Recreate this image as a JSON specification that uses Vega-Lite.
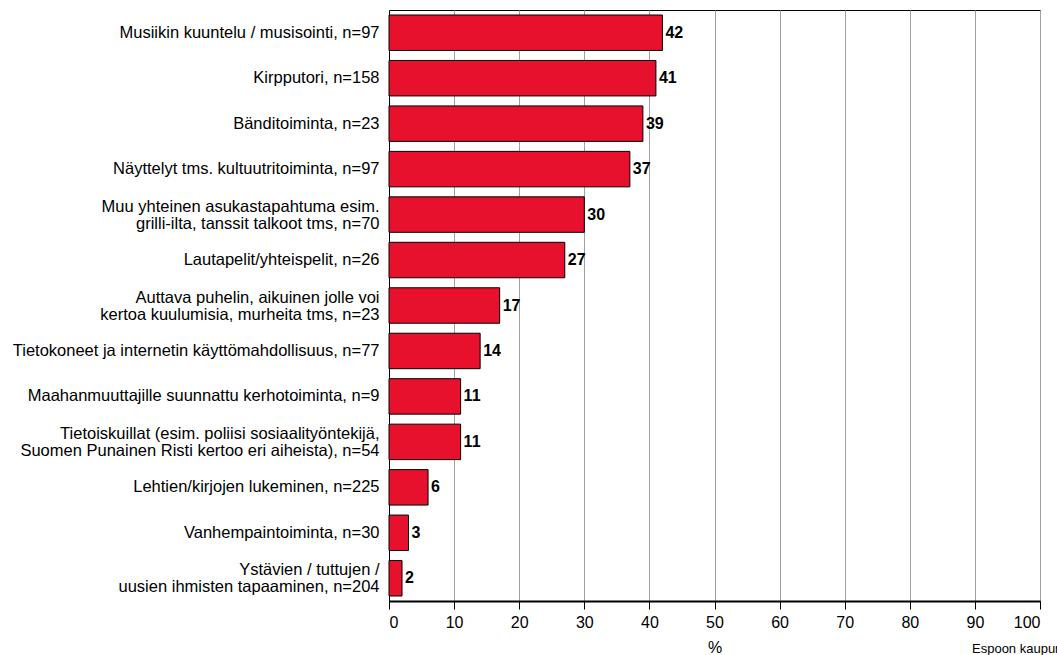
{
  "$schema": "https://vega.github.io/schema/vega-lite/v6.json",
  "width": 651,
  "height": 591,
  "autosize": {"type": "none"},
  "padding": {"left": 389, "top": 10, "right": 17, "bottom": 54},
  "background": "white",
  "config": {
    "font": "Liberation Sans",
    "view": {"stroke": "#000000", "strokeWidth": 1}
  },
  "title": {
    "text": "Espoon kaupunki",
    "orient": "bottom",
    "anchor": "start",
    "frame": "group",
    "baseline": "top",
    "dx": 583,
    "offset": -12,
    "fontSize": 13,
    "fontWeight": "normal",
    "color": "#000000",
    "font": "Liberation Sans"
  },
  "data": {
    "values": [
      {"label": "Musiikin kuuntelu / musisointi, n=97", "value": 42},
      {"label": "Kirpputori, n=158", "value": 41},
      {"label": "Bänditoiminta, n=23", "value": 39},
      {"label": "Näyttelyt tms. kultuutritoiminta, n=97", "value": 37},
      {"label": "Muu yhteinen asukastapahtuma esim.|grilli-ilta, tanssit talkoot tms, n=70", "value": 30},
      {"label": "Lautapelit/yhteispelit, n=26", "value": 27},
      {"label": "Auttava puhelin, aikuinen jolle voi|kertoa kuulumisia, murheita tms, n=23", "value": 17},
      {"label": "Tietokoneet ja internetin käyttömahdollisuus, n=77", "value": 14},
      {"label": "Maahanmuuttajille suunnattu kerhotoiminta, n=9", "value": 11},
      {"label": "Tietoiskuillat (esim. poliisi sosiaalityöntekijä,|Suomen Punainen Risti kertoo eri aiheista), n=54", "value": 11},
      {"label": "Lehtien/kirjojen lukeminen, n=225", "value": 6},
      {"label": "Vanhempaintoiminta, n=30", "value": 3},
      {"label": "Ystävien / tuttujen /|uusien ihmisten tapaaminen, n=204", "value": 2}
    ]
  },
  "encoding": {
    "y": {
      "field": "label",
      "type": "nominal",
      "sort": null,
      "scale": {"paddingInner": 0.22, "paddingOuter": 0.11},
      "axis": {
        "title": null,
        "ticks": false,
        "domain": true,
        "domainColor": "#000000",
        "labelExpr": "split(datum.label, '|')",
        "labelOffset": {"condition": {"test": "indexof(datum.value, '|') >= 0", "value": -8}, "value": 0},
        "labelFontSize": 16.5,
        "labelColor": "#000000",
        "labelPadding": 10,
        "labelLineHeight": 17,
        "labelLimit": 400
      }
    },
    "x": {
      "field": "value",
      "type": "quantitative",
      "scale": {"domain": [0, 100], "nice": false},
      "axis": {
        "title": "%",
        "titleFontSize": 16,
        "titleFontWeight": "normal",
        "titleColor": "#000000",
        "titlePadding": 9,
        "values": [0, 10, 20, 30, 40, 50, 60, 70, 80, 90, 100],
        "labelFontSize": 16,
        "labelColor": "#000000",
        "labelPadding": 5,
        "tickColor": "#000000",
        "tickSize": 8,
        "domainColor": "#000000",
        "domainWidth": 2,
        "grid": true,
        "gridColor": "#a0a0a0",
        "gridWidth": 1
      }
    }
  },
  "layer": [
    {
      "mark": {"type": "bar", "color": "#E8112D", "stroke": "#000000", "strokeWidth": 1}
    },
    {
      "mark": {"type": "text", "align": "left", "baseline": "middle", "dx": 3, "fontSize": 16, "fontWeight": "bold", "color": "#000000"},
      "encoding": {"text": {"field": "value", "type": "quantitative"}}
    }
  ]
}
